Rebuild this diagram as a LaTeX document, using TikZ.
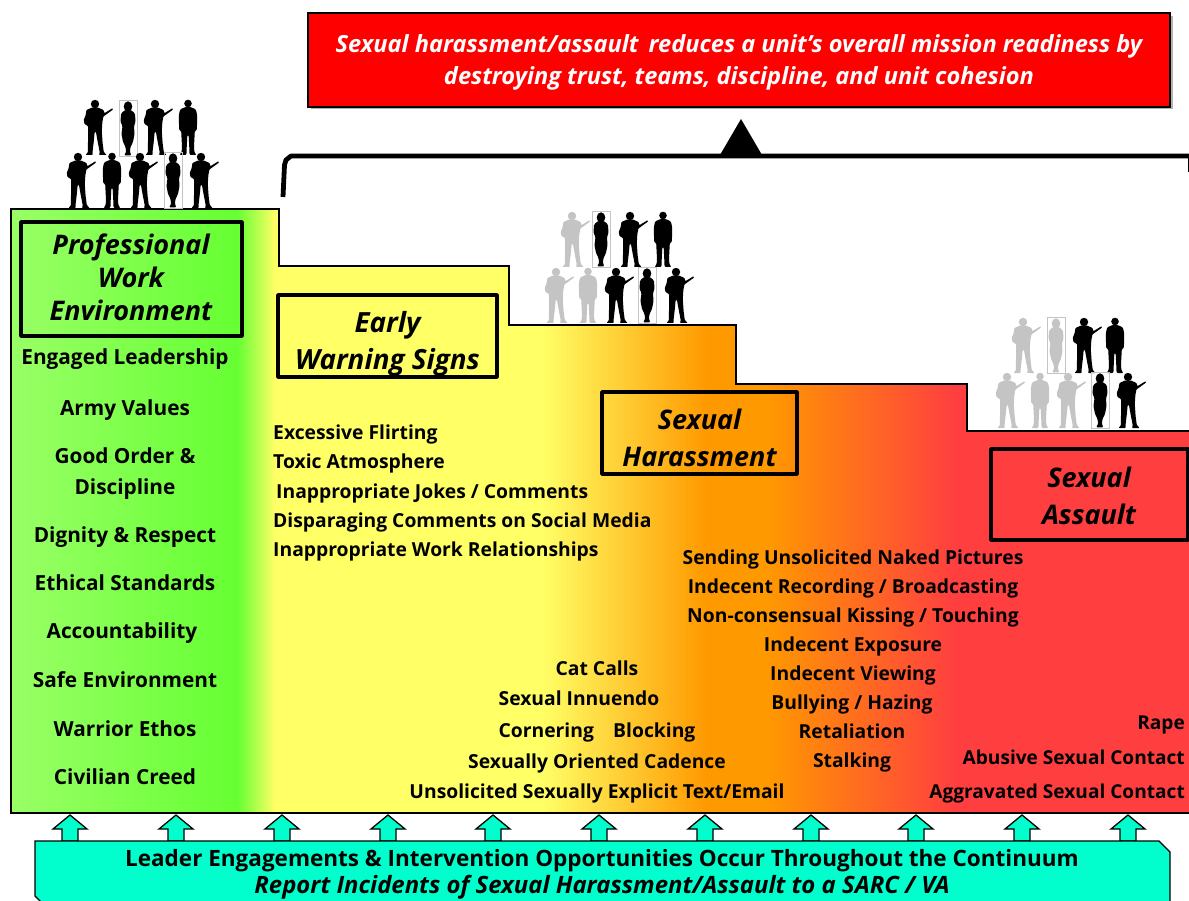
\documentclass[tikz,border=0pt]{standalone}
\usepackage{fontspec}
\setmainfont{Open Sans}
\usetikzlibrary{arrows.meta}
\definecolor{cyanfill}{HTML}{00FFCC}
\definecolor{ghost}{HTML}{C4C4C4}
\definecolor{gLight}{HTML}{99FF66}
\definecolor{gDeep}{HTML}{66FF33}
\definecolor{yel}{HTML}{FFFF66}
\definecolor{org}{HTML}{FF9900}
\definecolor{rd}{HTML}{FF3F3F}
\pgfdeclarehorizontalshading{continuum}{100bp}{
 color(0bp)=(gLight);
 color(25bp)=(gLight);
 color(34.6bp)=(gDeep);
 color(36.2bp)=(yel);
 color(47.5bp)=(yel);
 color(54.5bp)=(org);
 color(57bp)=(org);
 color(65bp)=(rd);
 color(75bp)=(rd);
 color(100bp)=(rd)}
\tikzset{
 x=1pt,y=-1pt,
 solfig/.pic={
  \fill[pic actions] (0,-51) circle[radius=4.2];
  \fill[pic actions,xscale=1.17,rounded corners=0.7] (-2.5,-47.5)--(-7.3,-45)--(-8,-40)--(-9.6,-35)--(-9,-31)--(-6,-29)--(-5.8,-24)--(-6,-12)--(-6,-3)--(-8,0)--(-2,0)--(-2,-4)--(-1,-14)--(-0.3,-23)--(0.8,-23)--(2.5,-12)--(4,-3)--(3.5,0)--(10,0)--(7.5,-3)--(6.5,-12)--(5.8,-24)--(6.3,-33)--(7.2,-38.5)--(15.5,-45.5)--(15,-46.8)--(8,-41.8)--(7.3,-45)--(2.5,-47.5)--cycle;
 },
 manfig/.pic={
  \fill[pic actions] (0,-51.5) circle[radius=3.8];
  \fill[pic actions,xscale=1.05,rounded corners=1] (-2.5,-48)--(-7.5,-45.5)--(-8.7,-40)--(-8.5,-25)--(-6.5,-24)--(-5.8,-10)--(-6,-3)--(-8,0)--(-1.5,0)--(-1.2,-8)--(-0.6,-20)--(0.6,-20)--(1.2,-8)--(1.5,0)--(8,0)--(6,-3)--(5.8,-10)--(6.5,-24)--(8.5,-25)--(8.7,-40)--(7.5,-45.5)--(2.5,-48)--cycle;
 },
 wmnfig/.pic={
  \draw[ghost,line width=0.5] (-9,-56) rectangle (9,0);
  \fill[pic actions] (0,-49.5) ellipse[x radius=4.3,y radius=5.2];
  \fill[pic actions,rounded corners=1.2] (-3,-46)--(-7,-42.5)--(-7.5,-34)--(-5.5,-30)--(-6.5,-22)--(-5,-14)--(-2.5,-9)--(-1.8,-4)--(-4,-0.7)--(3.5,-0.7)--(1.8,-4)--(2.5,-9)--(5,-14)--(6.5,-22)--(6,-30)--(7.5,-34)--(7,-42.5)--(3,-46)--cycle;
 },
 boxframe/.style={draw=black,line width=3.6pt,rounded corners=0.5,inner sep=0pt},
 boxtext/.style={align=center,inner sep=0pt,text=black,font=\fontsize{27}{37}\selectfont\bfseries\itshape},
 item/.style={inner sep=0pt,text height=18pt,text depth=4pt,text=black,font=\fontsize{19.3}{22}\selectfont\bfseries},
 lefti/.style={item,font=\fontsize{20.8}{22}\selectfont\bfseries},
 righti/.style={item,anchor=east,font=\fontsize{19.1}{22}\selectfont\bfseries},
 uparrow/.style={draw=black,line width=1.3pt,fill=cyanfill},
}
\begin{document}
\begin{tikzpicture}
\useasboundingbox (0,0) rectangle (1189,901);
% continuum body
\shade[shading=continuum] (11,209)--(279,209)--(279,266)--(509,266)--(509,325)--(736,325)--(736,384)--(967,384)--(967,431)--(1190,431)--(1190,813)--(11,813)--cycle;
\draw[black,line width=1.3pt] (11,209)--(279,209)--(279,266)--(509,266)--(509,325)--(736,325)--(736,384)--(967,384)--(967,431)--(1190,431)--(1190,813)--(11,813)--cycle;
% silhouettes
\foreach \px/\py/\kind in {95/155/solfig,128/156/wmnfig,155/155/solfig,188/155/manfig,78/208/solfig,112/208/manfig,140/208/solfig,173/208/wmnfig,201/208/solfig,
 601/267/wmnfig,630/267/solfig,663/267/manfig,616/323/solfig,647/323/wmnfig,676/323/solfig,
 1084/373/solfig,1115/373/manfig,1100/428/wmnfig,1128/428/solfig}
  \pic[fill=black] at (\px,\py) {\kind};
\foreach \px/\py/\kind in {572/267/solfig,556/323/solfig,588/323/manfig,
 1023/373/solfig,1056/373/wmnfig,1007/428/solfig,1040/428/manfig,1068/428/solfig}
  \pic[fill=ghost] at (\px,\py) {\kind};
% top message
\fill[gray!60] (311,16) rectangle (1172.5,109.5);
\node[draw=black,line width=1.2pt,fill=red,minimum width=862pt,minimum height=94pt,inner sep=0pt] (msg) at (739,60) {};
\node[align=center,text=white,inner sep=0pt,font=\fontsize{23.6}{32}\selectfont\bfseries\itshape] (msgtext) at (739,62.5) {Sexual harassment/assault\, reduces a unit’s overall mission readiness by\\destroying trust, teams, discipline, and unit cohesion};
% bracket
\coordinate (brL) at (283,197);
\coordinate (brR) at (1189,156);
\draw[black,line width=4.8pt,line join=round] (brL)--(284.5,165)--(286,160)--(291,156)--(brR);
\fill[black] (1188,158) rectangle (1190,172);
\fill[black] (741,119)--(762,155)--(720,155)--cycle;
% title boxes
\node[boxframe,minimum width=221pt,minimum height=114pt] (pwe) at (131.5,279) {};
\node[boxtext,font=\fontsize{27}{33}\selectfont\bfseries\itshape] (pwet) at (131,277) {Professional\\Work\\Environment};
\node[boxframe,minimum width=219pt,minimum height=82pt] (ews) at (387.5,336) {};
\node[boxtext,font=\fontsize{27.8}{37}\selectfont\bfseries\itshape] (ewst) at (387.5,344) {Early\\Warning Signs};
\node[boxframe,minimum width=195pt,minimum height=82pt] (sh) at (699.5,433) {};
\node[boxtext] (sht) at (699.5,437.5) {Sexual\\Harassment};
\node[boxframe,minimum width=197pt,minimum height=91pt] (sa) at (1089.5,494.5) {};
\node[boxtext] (sat) at (1089,495.5) {Sexual\\Assault};
% left list
\node[lefti] (a1) at (125,358) {Engaged Leadership};
\node[lefti] (a2) at (125,408) {Army Values};
\node[lefti] (a3) at (125,456) {Good Order \&};
\node[lefti] (a4) at (125,487) {Discipline};
\node[lefti] (a5) at (125,535) {Dignity \& Respect};
\node[lefti] (a6) at (125,583) {Ethical Standards};
\node[lefti] (a7) at (122,631) {Accountability};
\node[lefti] (a8) at (125,680) {Safe Environment};
\node[lefti] (a9) at (125,729) {Warrior Ethos};
\node[lefti] (a10) at (125,777) {Civilian Creed};
% early list
\node[item,anchor=west] (b1) at (273,432) {Excessive Flirting};
\node[item,anchor=west] (b2) at (273,461) {Toxic Atmosphere};
\node[item,anchor=west] (b3) at (276,491) {Inappropriate Jokes / Comments};
\node[item,anchor=west] (b4) at (273,520) {Disparaging Comments on Social Media};
\node[item,anchor=west] (b5) at (273,549) {Inappropriate Work Relationships};
% harassment lists
\node[item] (c1) at (853,557) {Sending Unsolicited Naked Pictures};
\node[item] (c2) at (853,586) {Indecent Recording / Broadcasting};
\node[item] (c3) at (853,615) {Non-consensual Kissing / Touching};
\node[item] (c4) at (853,644) {Indecent Exposure};
\node[item] (c5) at (853,673) {Indecent Viewing};
\node[item] (c6) at (852,702) {Bullying / Hazing};
\node[item] (c7) at (852,731) {Retaliation};
\node[item] (c8) at (852,760) {Stalking};
\node[item] (d1) at (597,668) {Cat Calls};
\node[item] (d2) at (579,698) {Sexual Innuendo};
\node[item] (d3) at (597,730) {Cornering\quad Blocking};
\node[item] (d4) at (597,761) {Sexually Oriented Cadence};
\node[item] (d5) at (597,791) {Unsolicited Sexually Explicit Text/Email};
% assault list
\node[righti] (e1) at (1185,722) {Rape};
\node[righti] (e2) at (1185,757) {Abusive Sexual Contact};
\node[righti] (e3) at (1185,791) {Aggravated Sexual Contact};
% arrows
\foreach \ax in {70,176,282,388,493,599,705,811,916,1022,1128}
  \draw[uparrow] (\ax,815)--(\ax+17,829)--(\ax+8,829)--(\ax+8,841)--(\ax-8,841)--(\ax-8,829)--(\ax-17,829)--cycle;
% bottom banner
\draw[black,line width=1.3pt,fill=cyanfill] (35,841)--(1159,841)--(1170,852)--(1170,902)--(41,902)--(35,896)--cycle;
\node[inner sep=0pt,text height=21pt,text depth=5pt,font=\fontsize{22.5}{26}\selectfont\bfseries] (ban1) at (602,858) {Leader Engagements \& Intervention Opportunities Occur Throughout the Continuum};
\node[inner sep=0pt,font=\fontsize{23.9}{26}\selectfont\bfseries\itshape] (ban2) at (602,887.5) {Report Incidents of Sexual Harassment/Assault to a SARC / VA};
\end{tikzpicture}
\end{document}
